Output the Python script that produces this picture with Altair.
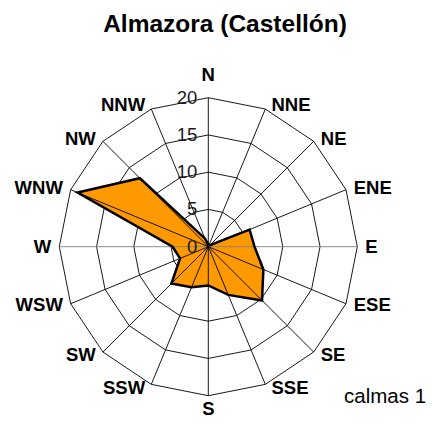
import math
import altair as alt
import pandas as pd

# ---------------- data ----------------
directions = ["N", "NNE", "NE", "ENE", "E", "ESE", "SE", "SSE",
              "S", "SSW", "SW", "WSW", "W", "WNW", "NW", "NNW"]
values = [0.3, 0.2, 0.3, 6.0, 6.2, 8.0, 10.2, 7.0,
          5.2, 5.9, 7.0, 4.1, 4.8, 19.0, 13.0, 1.2]
ring_levels = [5, 10, 15, 20]
tick_values = [0, 5, 10, 15, 20]
tick_labels = ["0", "5", "10", "15", "20"]
title_text = "Almazora (Castellón)"
calm_text = "calmas 1"

# ---------------- geometry ----------------
W, H = 418, 410
K = 7.45                      # pixels per unit
CX, CY = 200.3, 238.7         # centre in plot pixels
RMAX = 20
ORANGE = "#FF9900"
FONT = "Liberation Sans"

xdom = [-CX / K, (W - CX) / K]
ydom = [-(H - CY) / K, CY / K]
n = len(directions)


def ang(i):
    return math.radians(i * 360.0 / n)


def pdx(px):  # page pixel -> data
    return (px - 8 - CX) / K


def pdy(py):
    return (CY - (py - 8)) / K


xs = alt.Scale(domain=xdom, nice=False, zero=False)
ys = alt.Scale(domain=ydom, nice=False, zero=False)

# polygon
poly = pd.DataFrame([
    {"o": k, "dir": directions[k % n],
     "x": values[k % n] * math.sin(ang(k % n)),
     "y": values[k % n] * math.cos(ang(k % n))}
    for k in range(n + 1)
])

# rings
rings = pd.DataFrame([
    {"ring": r, "o": k,
     "x": r * math.sin(ang(k % n)), "y": r * math.cos(ang(k % n))}
    for r in ring_levels for k in range(n + 1)
])

# spokes
spokes = pd.DataFrame([
    {"dir": d, "x0": 0.0, "y0": 0.0,
     "x": RMAX * math.sin(ang(i)), "y": RMAX * math.cos(ang(i)),
     "main": d in ("E", "W")}
    for i, d in enumerate(directions)
])

# direction labels
lab_rows = []
for i, d in enumerate(directions):
    a = ang(i)
    tx = CX + RMAX * K * math.sin(a)
    ty = CY - RMAX * K * math.cos(a)
    s, c = math.sin(a), math.cos(a)
    if abs(s) < 1e-6:
        side = "center"
        lx = tx
        ly = ty - (22.5 if c > 0 else -13.0)
    else:
        side = "left" if s > 0 else "right"
        off = 5 + 3 * abs(s)
        lx = tx + off * (1 if s > 0 else -1)
        ly = ty - 4 * c
    lab_rows.append({"dir": d, "side": side,
                     "x": (lx - CX) / K, "y": (CY - ly) / K})
labels = pd.DataFrame(lab_rows)

ticks = pd.DataFrame({"v": tick_values, "lab": tick_labels})
ticks["x"] = -11.0 / K
ticks["y"] = ticks["v"]

notes = pd.DataFrame([
    {"t": title_text, "x": pdx(225), "y": pdy(32.3)},
])
calm = pd.DataFrame([{"t": calm_text, "x": pdx(344), "y": pdy(403.3)}])

base_x = alt.X("x:Q", scale=xs, axis=None)
base_y = alt.Y("y:Q", scale=ys, axis=None)

ring_layer = alt.Chart(rings).mark_line(color="black", strokeWidth=0.9).encode(
    x=base_x, y=base_y, detail="ring:N", order="o:Q")

fill_layer = alt.Chart(poly).mark_line(fill=ORANGE, stroke=ORANGE, strokeWidth=0.5).encode(
    x=base_x, y=base_y, order="o:Q")

spoke_layer = alt.Chart(spokes).mark_rule(strokeWidth=0.9).encode(
    x=alt.X("x0:Q", scale=xs, axis=None), y=alt.Y("y0:Q", scale=ys, axis=None),
    x2="x:Q", y2="y:Q",
    color=alt.condition("datum.main", alt.value("#808080"), alt.value("black")),
    strokeWidth=alt.condition("datum.main", alt.value(1.4), alt.value(0.9)),
)

outline_layer = alt.Chart(poly).mark_line(color="black", strokeWidth=2.5, strokeJoin="miter").encode(
    x=base_x, y=base_y, order="o:Q")


def label_layer(side):
    return alt.Chart(labels).transform_filter(
        alt.datum.side == side
    ).mark_text(align=side, baseline="middle", font=FONT, fontSize=18.5,
                fontWeight="bold", color="black").encode(
        x=base_x, y=base_y, text="dir:N")


tick_layer = alt.Chart(ticks).mark_text(align="right", baseline="middle", font=FONT,
                                        fontSize=18.5, color="#1a1a1a").encode(
    x=base_x, y=base_y, text="lab:N")

title_layer = alt.Chart(notes).mark_text(align="center", baseline="alphabetic", font=FONT,
                                         fontSize=24.5, fontWeight="bold", color="black").encode(
    x=base_x, y=base_y, text="t:N")

calm_layer = alt.Chart(calm).mark_text(align="left", baseline="alphabetic", font=FONT,
                                       fontSize=20.5, color="black").encode(
    x=base_x, y=base_y, text="t:N")

chart = alt.layer(
    ring_layer, fill_layer, spoke_layer, outline_layer,
    label_layer("left"), label_layer("right"), label_layer("center"),
    tick_layer, title_layer, calm_layer,
).properties(
    width=W, height=H, padding=0, autosize=alt.AutoSizeParams(type="none"),
    background="white",
).configure_view(stroke=None)

chart.save("out.html", embed_options={"renderer": "svg", "actions": False})
